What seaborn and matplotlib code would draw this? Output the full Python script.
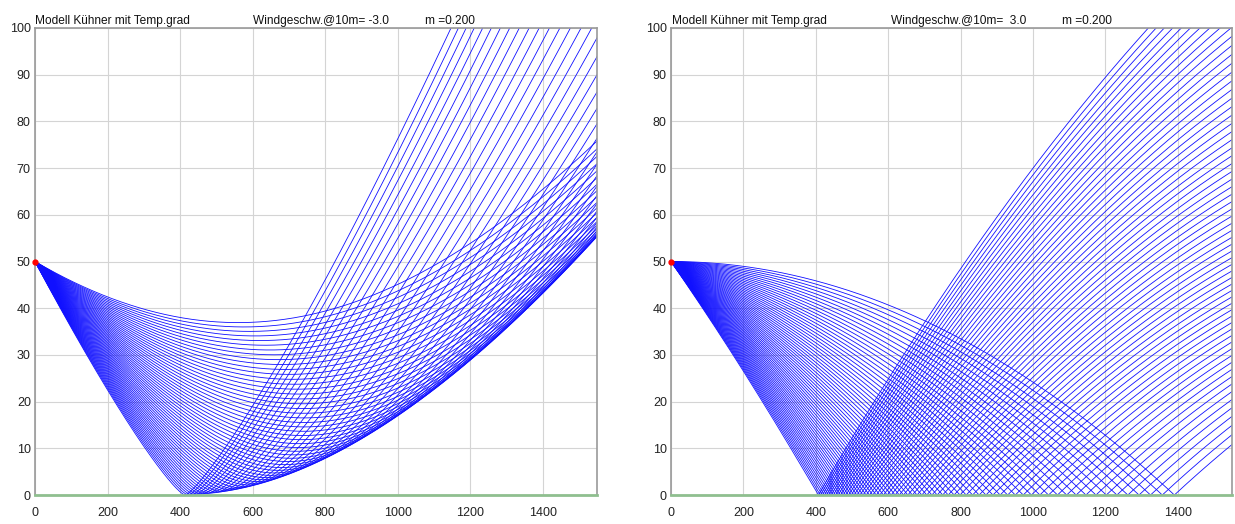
import numpy as np
import pandas as pd
import matplotlib
matplotlib.use("Agg")
import matplotlib.pyplot as plt
import seaborn as sns

# ---------------- chart data ----------------
model_title = "Modell Kühner mit Temp.grad"
wind_labels = ["Windgeschw.@10m= -3.0", "Windgeschw.@10m=  3.0"]
m_labels = ["m =0.200", "m =0.200"]
wind_speeds = [-3.0, 3.0]          # m/s at 10 m
m_exponent = 0.2                   # wind profile exponent
source_height = 50.0               # m
sound_speed = 340.0
temp_gradient_up = -0.0078         # 1/s, temperature part (upwind case)
eff_gradient_down = 0.0176         # 1/s, effective sound speed gradient (downwind case)
launch_angles_left = [
    -2.6, -2.7, -2.8, -2.9, -3.0, -3.1, -3.2, -3.3, -3.4, -3.5,
    -3.6, -3.7, -3.8, -3.9, -4.0, -4.1, -4.2, -4.3, -4.4, -4.5, -4.6, -4.7,
    -4.8, -4.9, -5.0, -5.1, -5.2, -5.3, -5.4, -5.5, -5.6, -5.7, -5.8, -5.9,
    -6.0, -6.1, -6.2, -6.3, -6.4, -6.5, -6.6, -6.7, -6.8, -6.9, -7.0, -7.1,
    -7.2, -7.3, -7.4, -7.5, -7.6, -7.7, -7.8, -7.9, -8.0, -8.1, -8.2, -8.3]
launch_angles_right = [
    0.0, -0.1, -0.2, -0.3, -0.4, -0.5, -0.6, -0.7, -0.8, -0.9, -1.0, -1.1,
    -1.2, -1.3, -1.4, -1.5, -1.6, -1.7, -1.8, -1.9, -2.0, -2.1, -2.2, -2.3,
    -2.4, -2.5, -2.6, -2.7, -2.8, -2.9, -3.0, -3.1, -3.2, -3.3, -3.4, -3.5,
    -3.6, -3.7, -3.8, -3.9, -4.0, -4.1, -4.2, -4.3, -4.4, -4.5, -4.6, -4.7,
    -4.8, -4.9, -5.0, -5.1, -5.2, -5.3, -5.4, -5.5, -5.6, -5.7, -5.8, -5.9,
    -6.0, -6.1, -6.2, -6.3, -6.4]
x_ticks = [0, 200, 400, 600, 800, 1000, 1200, 1400]
y_ticks = [0, 10, 20, 30, 40, 50, 60, 70, 80, 90, 100]
x_max = 1550
y_max = 100


def profile_up(zz):
    zz = np.maximum(zz, 0.01)
    u10 = wind_speeds[0]
    c = sound_speed + u10 * (zz / 10) ** m_exponent + temp_gradient_up * zz
    dc = u10 * m_exponent / 10 * (zz / 10) ** (m_exponent - 1) + temp_gradient_up
    return c, dc


def profile_down(zz):
    zz = np.maximum(zz, 0.0)
    return sound_speed + eff_gradient_down * zz, np.full_like(zz, eff_gradient_down)


def trace_rays(angles_deg, profile):
    """Ray tracing (Snell) in a horizontally stratified atmosphere."""
    th = np.radians(np.asarray(angles_deg, float))
    n = th.size
    x = np.zeros(n)
    z = np.full(n, source_height)

    def f(zz, tt):
        c, dc = profile(zz)
        return np.cos(tt), np.sin(tt), -np.cos(tt) * dc / c

    ds = 0.3
    rec_x, rec_z = [x.copy()], [z.copy()]
    for i in range(5600):
        k1 = f(z, th)
        k2 = f(z + ds / 2 * k1[1], th + ds / 2 * k1[2])
        k3 = f(z + ds / 2 * k2[1], th + ds / 2 * k2[2])
        k4 = f(z + ds * k3[1], th + ds * k3[2])
        x = x + ds / 6 * (k1[0] + 2 * k2[0] + 2 * k3[0] + k4[0])
        z = z + ds / 6 * (k1[1] + 2 * k2[1] + 2 * k3[1] + k4[1])
        th = th + ds / 6 * (k1[2] + 2 * k2[2] + 2 * k3[2] + k4[2])
        neg = z < 0
        z[neg] = -z[neg]
        th[neg] = -th[neg]
        if i % 3 == 2:
            rec_x.append(x.copy())
            rec_z.append(z.copy())
    X = np.array(rec_x)
    Z = np.array(rec_z)
    frames = []
    for r in range(n):
        out = np.where((X[:, r] > x_max + 5) | (Z[:, r] > y_max + 2))[0]
        end = out[0] + 1 if out.size else X.shape[0]
        frames.append(pd.DataFrame({"x": X[:end, r], "z": Z[:end, r], "ray": r}))
    return pd.concat(frames, ignore_index=True)


sns.set_style("white")
plt.rcParams["font.family"] = ["Liberation Sans", "DejaVu Sans"]

fig = plt.figure(figsize=(12.35, 5.24), dpi=100)
W, H = 1235, 524
axes_px = [(35, 597), (671, 1232)]
title_px = [(35, 253, 425), (672, 891, 1062)]
angle_sets = [launch_angles_left, launch_angles_right]
profiles = [profile_up, profile_down]

for i in range(2):
    l, r = axes_px[i]
    ax = fig.add_axes([l / W, (H - 495) / H, (r - l) / W, (495 - 28) / H])
    df = trace_rays(angle_sets[i], profiles[i])
    sns.lineplot(data=df, x="x", y="z", units="ray", estimator=None, sort=False,
                 color="#1010ff", lw=0.6, ax=ax, legend=False)
    ax.plot([0], [source_height], "o", color="red", ms=3.5, zorder=5, clip_on=False)
    ax.set_xlim(0, x_max)
    ax.set_ylim(0, y_max)
    ax.set_xticks(x_ticks)
    ax.set_yticks(y_ticks)
    ax.set_xlabel("")
    ax.set_ylabel("")
    ax.grid(True, color="#d4d4d4", lw=0.8)
    ax.set_axisbelow(True)
    ax.tick_params(axis="x", length=0, pad=9, labelsize=9, colors="#222222")
    ax.tick_params(axis="y", length=0, pad=3, labelsize=9, colors="#222222")
    for s in ["top", "right", "left"]:
        ax.spines[s].set_color("#9a9a9a")
        ax.spines[s].set_linewidth(1.2)
    ax.spines["bottom"].set_color("#8fbf8f")
    ax.spines["bottom"].set_linewidth(2.0)
    tx = title_px[i]
    fig.text(tx[0] / W, 1 - 24 / H, model_title, fontsize=8.6, color="#111111")
    fig.text(tx[1] / W, 1 - 24 / H, wind_labels[i], fontsize=8.6, color="#111111")
    fig.text(tx[2] / W, 1 - 24 / H, m_labels[i], fontsize=8.6, color="#111111")

fig.savefig("out.png", dpi=100)
